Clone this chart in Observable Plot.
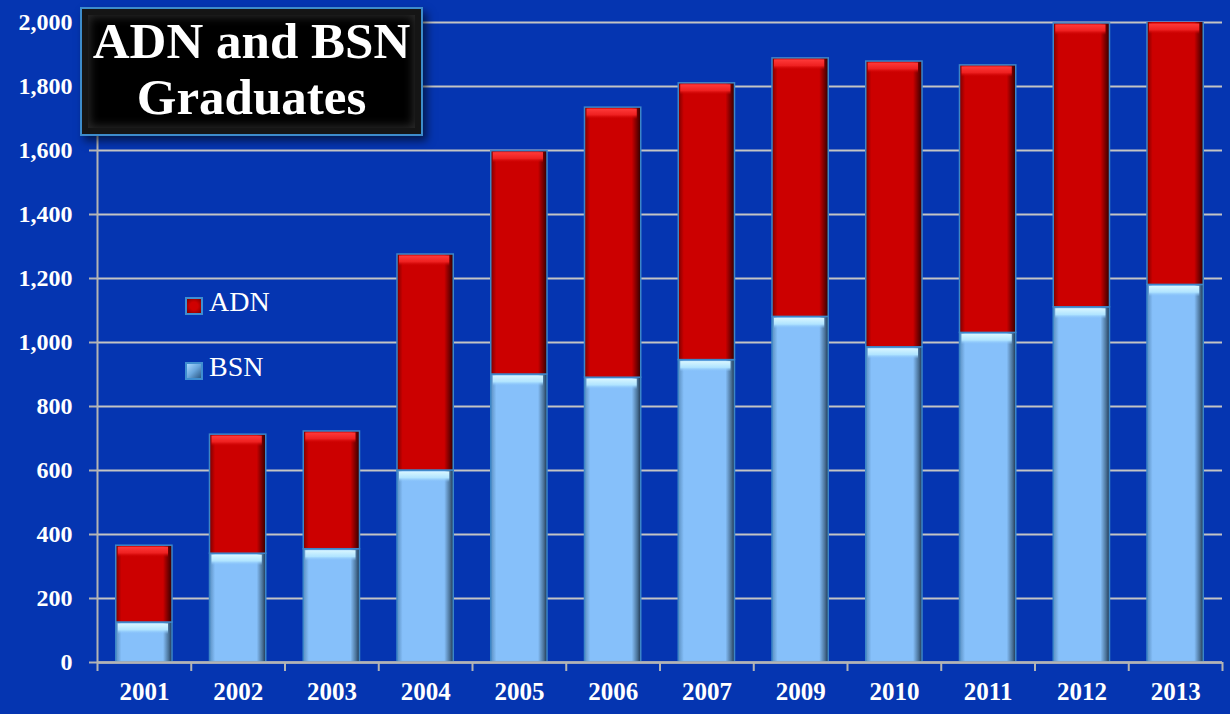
<!DOCTYPE html>
<html>
<head>
<meta charset="utf-8">
<script src="https://cdn.jsdelivr.net/npm/d3@7"></script>
<script src="https://cdn.jsdelivr.net/npm/@observablehq/plot@0.6"></script>
<style>
  html, body { margin: 0; padding: 0; background: #0535b1; }
  #wrap { position: relative; width: 1230px; height: 714px; overflow: hidden; }
  #title {
    position: absolute; left: 80px; top: 7px; width: 339px; height: 121px;
    background: #000; border: 2px solid #3d8ccc;
    box-shadow: inset 0 0 0 6px #151515, inset 0 0 10px 8px #2a2a2a, 4px 5px 8px rgba(0,0,0,0.55);
    color: #fff; font-family: "Liberation Serif", serif; font-weight: bold;
    font-size: 51px; line-height: 56px; text-align: center; padding-top: 4px; box-sizing: content-box;
  }
  .leg { position: absolute; color: #fff; font-family: "Liberation Serif", serif; font-size: 28px; }
  .sw { position: absolute; width: 14px; height: 14px; border: 2px solid #3f8ed0; }
</style>
</head>
<body>
<div id="wrap">
  <div id="chart"></div>
  <div id="title">ADN and BSN<br>Graduates</div>
  <div class="sw" style="left:185px; top:297px; background: radial-gradient(circle, #d00000 40%, #7a0000 100%);"></div>
  <div class="leg" style="left:209px; top:286px;">ADN</div>
  <div class="sw" style="left:185px; top:362px; background: linear-gradient(135deg, #a8d8ff 0%, #6aa6dc 50%, #2d5a86 100%);"></div>
  <div class="leg" style="left:209px; top:351px;">BSN</div>
</div>
<script>
const years = ["2001","2002","2003","2004","2005","2006","2007","2009","2010","2011","2012","2013"];
const bsn   = [125, 340, 354, 600, 900, 890, 945, 1080, 985, 1030, 1110, 1180];
const adn   = [240, 372, 368, 675, 698, 844, 865, 808, 893, 836, 887, 830];
const series = ["BSN", "ADN"];
const yTicks = [0, 200, 400, 600, 800, 1000, 1200, 1400, 1600, 1800, 2000];

const rows = [];
years.forEach((yr, i) => {
  rows.push({year: yr, series: "BSN", value: bsn[i]});
  rows.push({year: yr, series: "ADN", value: adn[i]});
});
// top edge of each stacked segment (for the bevel highlight)
const tops = [];
years.forEach((yr, i) => {
  tops.push({year: yr, series: "BSN", top: bsn[i]});
  tops.push({year: yr, series: "ADN", top: Math.min(2000, bsn[i] + adn[i])});
});

const W = 1230, H = 714, mL = 97, mR = 8, mT = 22, mB = 52;
const step = (W - mL - mR) / years.length;

const chart = Plot.plot({
  width: W, height: H,
  marginLeft: mL, marginRight: mR, marginTop: mT, marginBottom: mB,
  style: {background: "#0535b1", color: "white", fontFamily: "Liberation Serif, serif", overflow: "visible"},
  x: {domain: years, paddingInner: 0.4, paddingOuter: 0.2, round: false, label: null},
  y: {domain: [0, 2000], label: null},
  color: {domain: series, range: ["url(#gB)", "url(#gA)"]},
  marks: [
    Plot.gridY(yTicks, {stroke: "#c4c4c4", strokeOpacity: 1, strokeWidth: 2}),
    Plot.barY(rows, Plot.stackY({order: series}, {
      x: "year", y: "value", fill: "series", z: "series",
      stroke: "#3c86c8", strokeWidth: 1.5, clip: true
    })),
    Plot.barY(tops, {
      x: "year", y1: "top", y2: "top", insetTop: 1.5, insetBottom: -12, insetLeft: 2, insetRight: 4,
      fill: d => d.series === "ADN" ? "url(#hA)" : "url(#hB)"
    }),
    Plot.ruleX([years[0]], {x: d => d, dx: -step / 2, y1: 0, y2: 2000, stroke: "#b4b4b4", strokeWidth: 2}),
    Plot.ruleY([0], {stroke: "#b4b4b4", strokeWidth: 2.5}),
    Plot.ruleX(years, {x: d => d, dx: -step / 2, y1: 0, y2: 0, insetBottom: -9, stroke: "#b4b4b4", strokeWidth: 2}),
    Plot.ruleX([years[years.length - 1]], {x: d => d, dx: step / 2, y1: 0, y2: 0, insetBottom: -9, stroke: "#b4b4b4", strokeWidth: 2}),
    Plot.axisY(yTicks, {tickSize: 8, tickPadding: 17, tickFormat: d3.format(","), fontSize: 24, fontWeight: "bold", stroke: "#b4b4b4", strokeWidth: 2, fill: "white"}),
    Plot.axisX({tickSize: 0, tickPadding: 20, fontSize: 25, fontWeight: "bold", fill: "white"})
  ]
});

const ns = "http://www.w3.org/2000/svg";
const defs = document.createElementNS(ns, "defs");
defs.innerHTML = `
  <linearGradient id="gA" x1="0" x2="1" y1="0" y2="0">
    <stop offset="0" stop-color="#7a0000"/>
    <stop offset="0.1" stop-color="#cc0000"/>
    <stop offset="0.84" stop-color="#cc0000"/>
    <stop offset="0.94" stop-color="#6a0000"/>
    <stop offset="1" stop-color="#300000"/>
  </linearGradient>
  <linearGradient id="gB" x1="0" x2="1" y1="0" y2="0">
    <stop offset="0" stop-color="#5a8ec0"/>
    <stop offset="0.1" stop-color="#86c0fa"/>
    <stop offset="0.84" stop-color="#86c0fa"/>
    <stop offset="0.94" stop-color="#4a7298"/>
    <stop offset="1" stop-color="#1e3550"/>
  </linearGradient>
  <linearGradient id="hA" x1="0" x2="0" y1="0" y2="1">
    <stop offset="0" stop-color="#ff3a3a"/>
    <stop offset="0.6" stop-color="#ee2020"/>
    <stop offset="1" stop-color="#cc0000" stop-opacity="0"/>
  </linearGradient>
  <linearGradient id="hB" x1="0" x2="0" y1="0" y2="1">
    <stop offset="0" stop-color="#d8f6ff"/>
    <stop offset="0.6" stop-color="#b0e4ff"/>
    <stop offset="1" stop-color="#86c0fa" stop-opacity="0"/>
  </linearGradient>`;
chart.insertBefore(defs, chart.firstChild);
document.getElementById("chart").appendChild(chart);
</script>
</body>
</html>
